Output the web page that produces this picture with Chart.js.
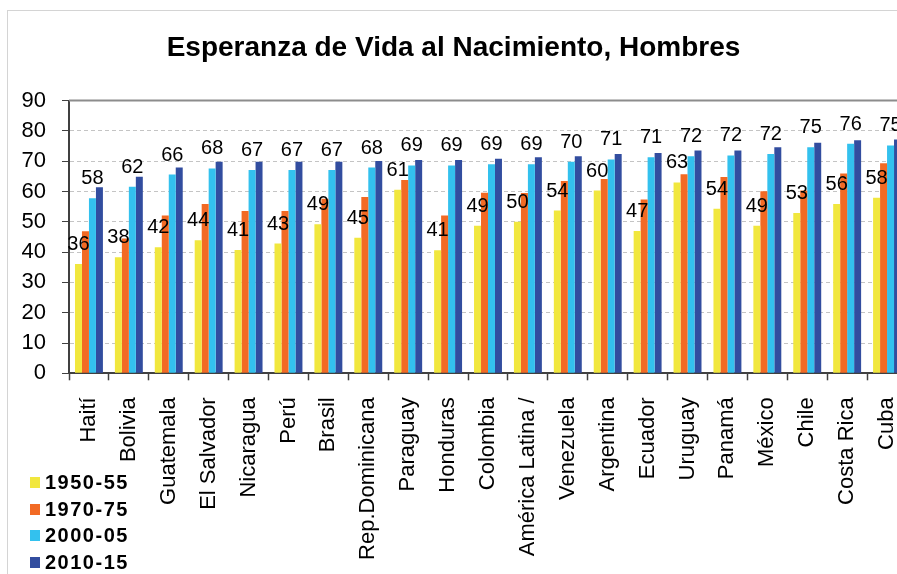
<!DOCTYPE html>
<html lang="es">
<head>
<meta charset="utf-8">
<title>Esperanza de Vida al Nacimiento, Hombres</title>
<script src="https://cdn.jsdelivr.net/npm/chart.js@4.4.1/dist/chart.umd.min.js"></script>
<style>
  html, body { margin: 0; padding: 0; background: #fff; overflow: hidden; }
  body { width: 897px; height: 574px; position: relative; }
  #frame { position: absolute; left: 7px; top: 10px; width: 900px; height: 600px;
           border-left: 1px solid #d4d4d4; border-top: 1px solid #d4d4d4; }
  #lifeChart { position: absolute; left: 0; top: 0; }
  #legend { position: absolute; left: 30px; top: 469px;
            font: bold 20px "Liberation Sans", Arial, sans-serif; letter-spacing: 1.5px; color: #000; }
  .legend-item { display: flex; align-items: center; height: 26.7px; }
  .legend-swatch { width: 10px; height: 11px; margin-right: 5px; }
</style>
</head>
<body>
<div id="frame"></div>
<canvas id="lifeChart" width="910" height="574"></canvas>
<div id="legend"></div>

<script>
// Data

const countries = ['Haití', 'Bolivia', 'Guatemala', 'El Salvador', 'Nicaragua', 'Perú', 'Brasil',
  'Rep.Dominicana', 'Paraguay', 'Honduras', 'Colombia', 'América Latina /', 'Venezuela',
  'Argentina', 'Ecuador', 'Uruguay', 'Panamá', 'México', 'Chile', 'Costa Rica', 'Cuba'];

const periods = ['1950-55', '1970-75', '2000-05', '2010-15'];

const values1950 = [36.1, 38.3, 41.6, 43.9, 40.7, 42.8, 49.2, 44.7, 60.6, 40.6, 48.7,
  50.0, 53.7, 60.3, 47.0, 63.0, 54.3, 48.7, 52.9, 55.9, 57.9];
const values1970 = [46.9, 44.5, 52.1, 55.9, 53.6, 53.6, 57.6, 58.2, 63.8, 52.1, 59.6,
  59.5, 63.5, 64.1, 57.4, 65.7, 64.8, 60.1, 60.3, 65.9, 69.3];
const values2000 = [57.8, 61.6, 65.6, 67.6, 67.1, 67.1, 67.1, 67.9, 68.6, 68.6, 69.0,
  69.0, 69.8, 70.6, 71.3, 71.6, 71.9, 72.4, 74.6, 75.8, 75.2];
const values2010 = [61.4, 64.9, 67.9, 69.8, 69.8, 69.8, 69.8, 70.1, 70.4, 70.4, 70.8,
  71.3, 71.6, 72.4, 72.7, 73.5, 73.5, 74.6, 76.1, 76.9, 77.2];

const yTicks = [0, 10, 20, 30, 40, 50, 60, 70, 80, 90];

const fontFamily = '"Liberation Sans", Arial, Helvetica, sans-serif';

// labels on top of the 1950-55 and 2000-05 bars
const valueLabels = {
  id: 'valueLabels',
  afterDatasetsDraw(chart) {
    const ctx = chart.ctx;
    ctx.save();
    ctx.font = '20px ' + fontFamily;
    ctx.fillStyle = '#000';
    ctx.textAlign = 'center';
    ctx.textBaseline = 'alphabetic';
    chart.data.datasets.forEach((ds, i) => {
      if (!ds.showValues) return;
      chart.getDatasetMeta(i).data.forEach((bar, j) => {
        ctx.fillText(Math.round(ds.data[j]), bar.x, bar.y - 14);
      });
    });
    ctx.restore();
  }
};

// solid grey edge along the top of the plot area
const plotTopLine = {
  id: 'plotTopLine',
  beforeDatasetsDraw(chart) {
    const { ctx, chartArea } = chart;
    ctx.save();
    ctx.strokeStyle = '#8c8c8c';
    ctx.lineWidth = 2;
    ctx.beginPath();
    ctx.moveTo(chartArea.left, chartArea.top);
    ctx.lineTo(chartArea.right + 2, chartArea.top);
    ctx.stroke();
    ctx.restore();
  }
};

function makeDataset(label, data, color, showValues) {
  return {
    label: label,
    data: data,
    backgroundColor: color,
    borderWidth: 0,
    showValues: showValues
  };
}

const lifeChart = new Chart(document.querySelector('#lifeChart'), {
  type: 'bar',
  data: {
    labels: countries,
    datasets: [
      makeDataset(periods[0], values1950, '#f1e73e', true),
      makeDataset(periods[1], values1970, '#f26a24', false),
      makeDataset(periods[2], values2000, '#33c1ee', true),
      makeDataset(periods[3], values2010, '#324d9f', false)
    ]
  },
  options: {
    responsive: false,
    animation: false,
    layout: { padding: { left: 0, right: 3, top: 0, bottom: 0 } },
    datasets: { bar: { categoryPercentage: 0.7, barPercentage: 1.0 } },
    plugins: {
      legend: { display: false },
      tooltip: { enabled: false },
      title: {
        display: true,
        text: 'Esperanza de Vida al Nacimiento, Hombres',
        color: '#000',
        font: { family: fontFamily, size: 28, weight: 'bold' },
        padding: { top: 31, bottom: 36 }
      }
    },
    scales: {
      x: {
        grid: { offset: true, drawOnChartArea: false, tickLength: 7, tickColor: '#404040', tickWidth: 1.5 },
        border: { color: '#404040', width: 2 },
        ticks: {
          color: '#000',
          font: { family: fontFamily, size: 22 },
          minRotation: 90,
          maxRotation: 90,
          autoSkip: false,
          padding: 17
        },
        afterFit: scale => {
          scale.height = 200.7;
          scale.paddingLeft = 0;
          scale.paddingRight = 0;
        }
      },
      y: {
        min: 0,
        max: 90,
        afterBuildTicks: scale => { scale.ticks = yTicks.map(v => ({ value: v })); },
        ticks: { color: '#000', font: { family: fontFamily, size: 22 }, padding: 16 },
        grid: { color: '#c4c4c4', tickColor: '#404040', tickLength: 7, tickBorderDash: [] },
        border: { color: '#404040', width: 2, dash: [4, 3] },
        afterFit: scale => {
          scale.width = 69;
          scale.paddingTop = 0;
          scale.paddingBottom = 0;
        }
      }
    }
  },
  plugins: [plotTopLine, valueLabels]
});

// legend list in the lower left corner
function renderLegend(chart) {
  const legend = document.querySelector('#legend');
  legend.innerHTML = chart.data.datasets.reduce((html, ds) => {
    return html + `<div class="legend-item"><span class="legend-swatch" style="background:${ds.backgroundColor}"></span>${ds.label}</div>`;
  }, '');
}

renderLegend(lifeChart);
</script>
</body>
</html>
